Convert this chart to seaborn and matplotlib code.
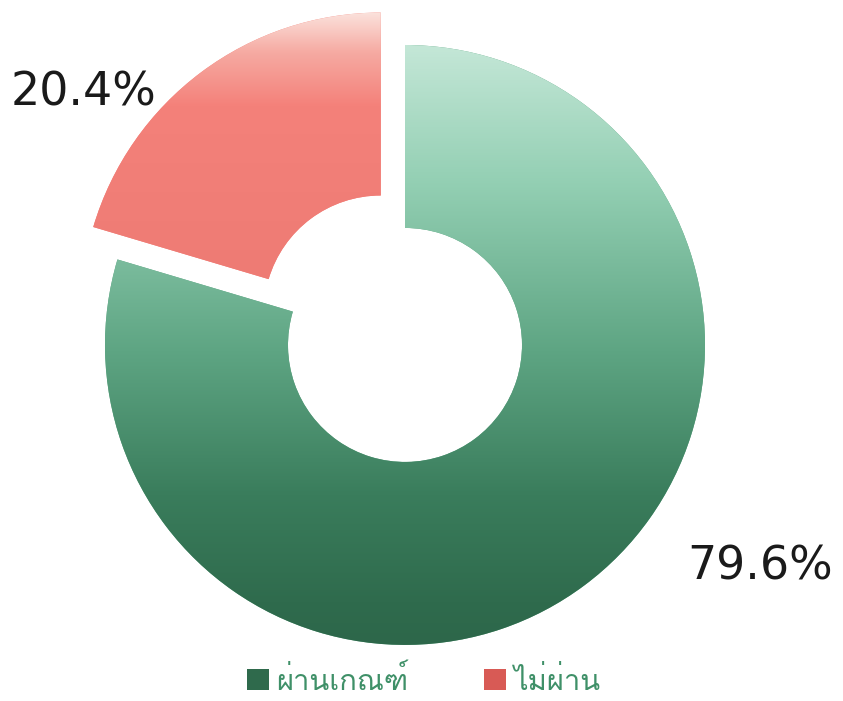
import numpy as np
import matplotlib
matplotlib.use("Agg")
import matplotlib.pyplot as plt
import seaborn as sns
from matplotlib import font_manager
from matplotlib.ft2font import FT2Font
from matplotlib.colors import LinearSegmentedColormap

labels = ["ผ่านเกณฑ์", "ไม่ผ่าน"]
values = [79.6, 20.4]
explode = [0.0, 0.135]

sns.set_theme(style="white")

# find a font with Thai glyphs
thai_font = None
for f in font_manager.fontManager.ttflist:
    try:
        if 0x0E1C in FT2Font(f.fname).get_charmap():
            thai_font = f.name
            break
    except Exception:
        pass
fams = ([thai_font] if thai_font else []) + ["DejaVu Sans"]
plt.rcParams["font.family"] = fams

fig = plt.figure(figsize=(8.43, 7.01), dpi=100)
ax = fig.add_axes([0, 0, 1, 1])

wedges, _ = ax.pie(values, explode=explode, startangle=90, counterclock=False,
                   radius=1.0, wedgeprops=dict(width=0.61, linewidth=0))

# vertical gradients (light at top) clipped to each wedge
grad_stops = [
    [(0.0, "#c4e7d7"), (0.23, "#93cfb3"), (0.51, "#5ea583"), (0.75, "#3a7d5c"),
     (0.93, "#2f6b4d"), (1.0, "#2d674a")],
    [(0.0, "#fbe2dc"), (0.15, "#f6aaa2"), (0.35, "#f4817a"), (1.0, "#ee7b74")],
]
for w, stops in zip(wedges, grad_stops):
    w.set_facecolor(stops[2][1])
    bb = w.get_path().get_extents()
    cmap = LinearSegmentedColormap.from_list("g", stops)
    grad = np.linspace(0, 1, 256).reshape(-1, 1)
    im = ax.imshow(grad, cmap=cmap, extent=(bb.x0, bb.x1, bb.y0, bb.y1),
                   aspect="auto", zorder=w.get_zorder() + 0.1)
    im.set_clip_path(w)

ax.set_xlim(-1.35, 1.46)
ax.set_ylim(-1.187, 1.15)
ax.set_aspect("auto")
ax.axis("off")

ax.text(-1.073, 0.84, f"{values[1]:.1f}%", fontsize=33, color="#1a1a1a",
        ha="center", va="center", family="DejaVu Sans")
ax.text(1.183, -0.74, f"{values[0]:.1f}%", fontsize=33, color="#1a1a1a",
        ha="center", va="center", family="DejaVu Sans")

leg = ax.legend(wedges, labels, loc="lower center", bbox_to_anchor=(0.503, -0.03),
                ncol=2, frameon=False, fontsize=21, handlelength=0.75, handleheight=0.75,
                columnspacing=2.6, handletextpad=0.25)
for t in leg.get_texts():
    t.set_color("#3f9068")
for h, c in zip(leg.legend_handles, ["#2f6a4c", "#d85a55"]):
    h.set_facecolor(c)

fig.savefig("out.png", dpi=100)
